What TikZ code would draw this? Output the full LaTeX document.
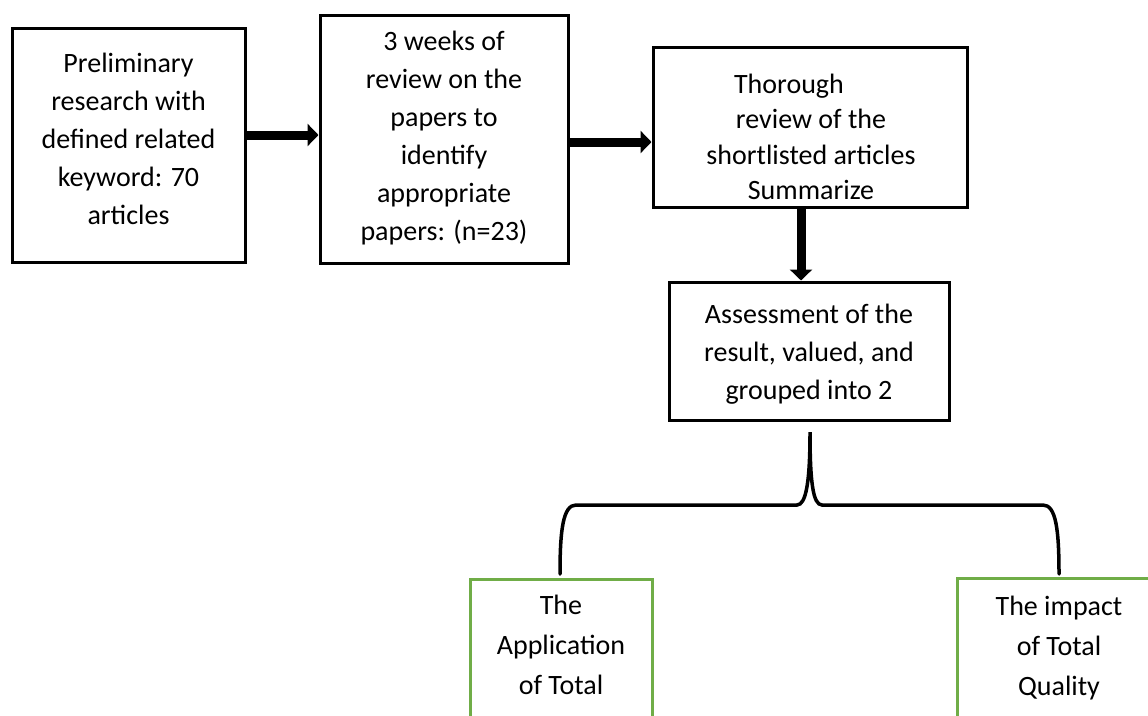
\documentclass[tikz,border=0pt]{standalone}
\usepackage{fontspec}
\setmainfont{Carlito}
\usetikzlibrary{arrows.meta}
\definecolor{boxgreen}{RGB}{112,173,71}
\tikzset{
  stepbox/.style={draw=black, line width=3pt, inner sep=0pt},
  txt/.style={inner sep=0pt, align=center, font=\fontsize{28}{38}\selectfont},
  bigarrow/.style={line width=9pt, -{Triangle[length=11pt,width=22pt]}},
  bracepath/.style={line width=3.5pt, line cap=round},
  greenbox/.style={draw=boxgreen, line width=3pt}
}
\begin{document}
\begin{tikzpicture}[x=1pt,y=-1pt]
\useasboundingbox (0,0) rectangle (1148,715);
% boxes
\node[stepbox, minimum width=233pt, minimum height=234pt] (b1) at (128.5,145) {};
\node[stepbox, minimum width=248pt, minimum height=248pt] (b2) at (444,139) {};
\node[stepbox, minimum width=314pt, minimum height=160pt] (b3) at (810,127) {};
\node[stepbox, minimum width=280pt, minimum height=138pt] (b4) at (809,351) {};
% texts
\node[txt] (t1) at (128.5,139)
  {Preliminary\\research with\\defined related\\keyword: 70\\articles};
\node[txt] (t2) at (444,138)
  {3 weeks of\\review on the\\papers to\\identify\\appropriate\\papers: (n=23)};
\node[txt, font=\fontsize{28}{35.5}\selectfont] (t3) at (811,137)
  {Thorough\hspace*{44pt}\\review of the\\shortlisted articles\\Summarize};
\node[txt] (t4) at (809,354)
  {Assessment of the\\result, valued, and\\grouped into 2};
% arrows
\draw[bigarrow] (b1.east |- 0,135) -- (b2.west |- 0,135);
\draw[bigarrow] (b2.east |- 0,142) -- (b3.west |- 0,142);
\draw[bigarrow] (b3.south -| 801,0) -- (b4.north -| 801,0);
% brace
\coordinate (bt) at (810,432);
\coordinate (bl) at (560,574);
\coordinate (br) at (1059,574);
\draw[bracepath] (bl) .. controls (560,530) and (563,505) .. (576,505) -- (797,505)
  .. controls (806,505) and (810,482) .. (bt)
  .. controls (810,482) and (813,505) .. (822,505) -- (1043,505)
  .. controls (1056,505) and (1059,530) .. (br);
% green boxes (cut at bottom)
\draw[greenbox] (470,720) -- (470,579) -- (652,579) -- (652,720);
\draw[greenbox] (957,720) -- (957,578) -- (1165,578) -- (1165,720);
\node[txt, font=\fontsize{28}{40}\selectfont] (g1) at (561,645) {The\\Application\\of Total};
\node[txt, font=\fontsize{28}{40}\selectfont] (g2) at (1059,648) {The impact\\of Total\\Quality};
\end{tikzpicture}
\end{document}
